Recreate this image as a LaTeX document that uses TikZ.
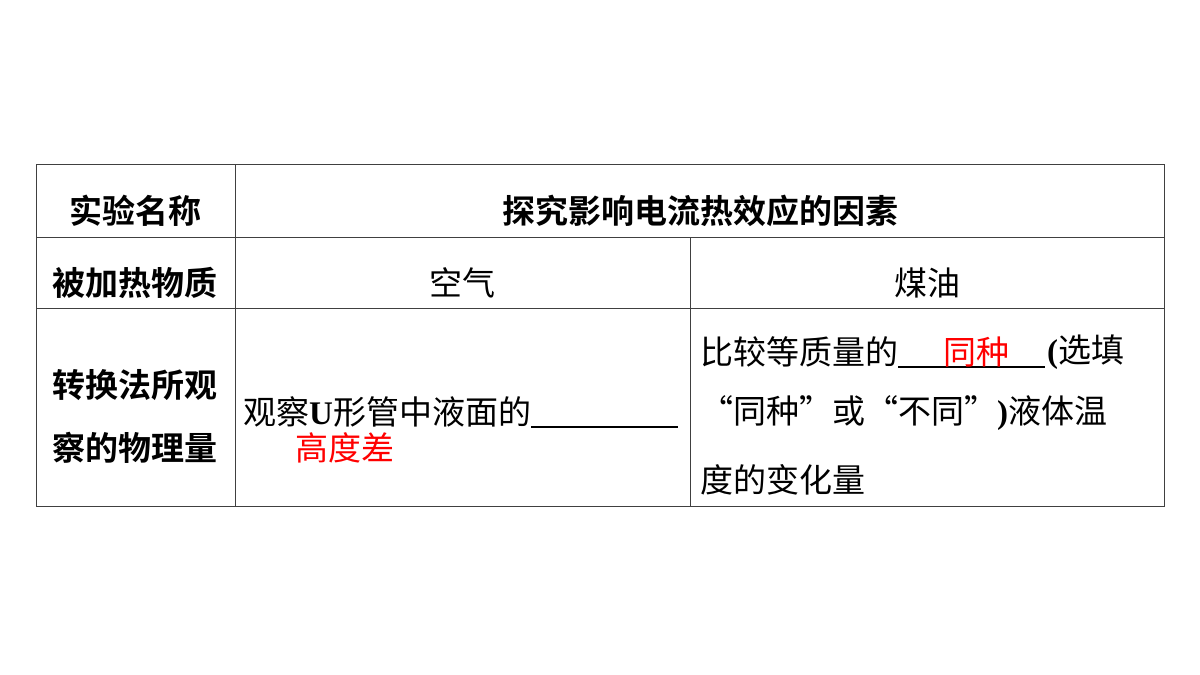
\documentclass[tikz,border=0pt]{standalone}
\usepackage{fontspec}
\newfontfamily\cjk{Noto Sans CJK SC}
\newfontfamily\cjkb{Noto Sans CJK SC Bold}
\newfontfamily\lat{Liberation Serif}
\begin{document}
\begin{tikzpicture}[x=1pt,y=-1pt,
  grid/.style={draw=black!75,line width=0.8pt},
  hd/.style={font=\cjkb\fontsize{33}{36}\selectfont,inner sep=0pt},
  tx/.style={font=\cjk\fontsize{33}{36}\selectfont,inner sep=0pt},
  ul/.style={line width=1.2pt}]
\useasboundingbox (0,0) rectangle (1200,675);
\fill[white] (0,0) rectangle (1200,675);
\draw[grid] (36,164) rectangle (1164,506);
\draw[grid] (36,237) -- (1164,237);
\draw[grid] (36,308) -- (1164,308);
\draw[grid] (235,164) -- (235,506);
\draw[grid] (690,237) -- (690,506);
\node[hd] (a) at (135,211) {实验名称};
\node[hd] (b) at (700,211) {探究影响电流热效应的因素};
\node[hd] (c) at (135,283) {被加热物质};
\node[tx] (d) at (462,283) {空气};
\node[tx] (e) at (927,283) {煤油};
\node[hd] (f) at (135,385) {转换法所观};
\node[hd] (g) at (135,448) {察的物理量};
\node[tx,anchor=west] (h) at (243,412) {观察{\lat\bfseries U}形管中液面的};
\coordinate (u1) at (552,427); \coordinate (u2) at (678,427);
\draw[ul] (h.east |- u1) -- (u2);
\node[tx,red,anchor=west] (i) at (295,448) {高度差};
\node[tx,anchor=west] (j) at (700,352) {比较等质量的};
\coordinate (v1) at (916,367); \coordinate (v2) at (1045,367);
\draw[ul] (j.east |- v1) -- (v2);
\node[tx,red,anchor=west] (k) at (943,352) {同种};
\node[tx,anchor=west] (l) at (1047,352) {{\lat\bfseries(}选填};
\node[tx,anchor=west] (m) at (700,413) {“同种”或“不同”{\lat\bfseries)}液体温};
\node[tx,anchor=west] (n) at (700,480) {度的变化量};
\end{tikzpicture}
\end{document}
